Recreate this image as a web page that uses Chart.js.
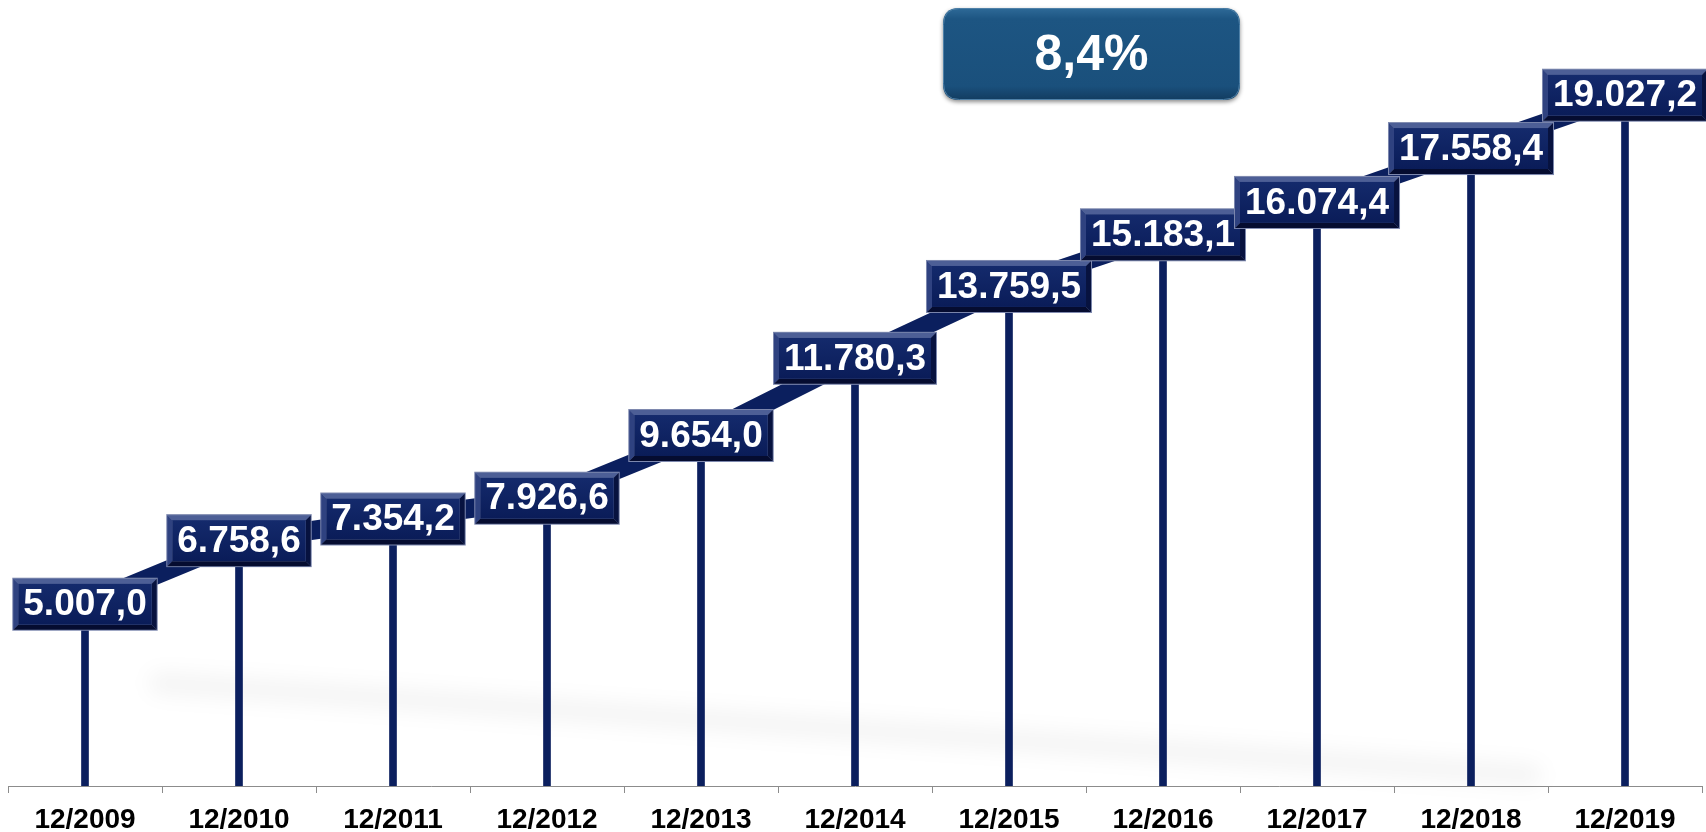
<!DOCTYPE html>
<html>
<head>
<meta charset="utf-8">
<script src="https://cdn.jsdelivr.net/npm/chart.js@4.4.1/dist/chart.umd.min.js"></script>
<style>
html,body{margin:0;padding:0;background:#fff;}
#wrap{width:1706px;height:832px;position:relative;}
</style>
</head>
<body>
<div id="wrap"><canvas id="c" width="1706" height="832"></canvas></div>
<script>
const categories = ['12/2009','12/2010','12/2011','12/2012','12/2013','12/2014','12/2015','12/2016','12/2017','12/2018','12/2019'];
const values = [5007.0, 6758.6, 7354.2, 7926.6, 9654.0, 11780.3, 13759.5, 15183.1, 16074.4, 17558.4, 19027.2];
const growthLabel = '8,4%';
const yMax = 21650;

const NAVY = '#0B1F5E';

function fmt(v){
  const fixed = v.toFixed(1);
  let [i, d] = fixed.split('.');
  i = i.replace(/\B(?=(\d{3})+(?!\d))/g, '.');
  return i + ',' + d;
}

function roundRect(ctx, x, y, w, h, r){
  ctx.beginPath();
  ctx.moveTo(x + r, y);
  ctx.lineTo(x + w - r, y);
  ctx.quadraticCurveTo(x + w, y, x + w, y + r);
  ctx.lineTo(x + w, y + h - r);
  ctx.quadraticCurveTo(x + w, y + h, x + w - r, y + h);
  ctx.lineTo(x + r, y + h);
  ctx.quadraticCurveTo(x, y + h, x, y + h - r);
  ctx.lineTo(x, y + r);
  ctx.quadraticCurveTo(x, y, x + r, y);
  ctx.closePath();
}

const shadowPlugin = {
  id: 'shadowPlugin',
  beforeDatasetsDraw(chart){
    const ctx = chart.ctx;
    const xs = chart.scales.x;
    ctx.save();
    ctx.filter = 'blur(10px)';
    ctx.strokeStyle = 'rgba(0,0,0,0.045)';
    ctx.lineWidth = 22;
    ctx.lineCap = 'round';
    ctx.beginPath();
    ctx.moveTo(xs.getPixelForValue(0) + 75, 683);
    ctx.lineTo(xs.getPixelForValue(9) + 60, 775);
    ctx.stroke();
    ctx.restore();
  }
};

const boxPlugin = {
  id: 'boxPlugin',
  afterDatasetsDraw(chart){
    const ctx = chart.ctx;
    const meta = chart.getDatasetMeta(1);
    ctx.save();
    ctx.font = 'bold 37px "Liberation Sans", Arial, sans-serif';
    ctx.textAlign = 'center';
    ctx.textBaseline = 'middle';
    meta.data.forEach((pt, i) => {
      const txt = fmt(values[i]);
      const tw = ctx.measureText(txt).width;
      const w = tw + 20, h = 51;
      const x = pt.x - w / 2, y = pt.y - h / 2;
      const b = 5;
      ctx.fillStyle = '#7D88AE';
      ctx.fillRect(x - 1, y - 1, w + 2, h + 2);
      ctx.fillStyle = '#4D5F96';
      ctx.beginPath(); ctx.moveTo(x, y); ctx.lineTo(x + w, y); ctx.lineTo(x + w - b, y + b); ctx.lineTo(x + b, y + b); ctx.closePath(); ctx.fill();
      ctx.fillStyle = '#2F4280';
      ctx.beginPath(); ctx.moveTo(x, y); ctx.lineTo(x + b, y + b); ctx.lineTo(x + b, y + h - b); ctx.lineTo(x, y + h); ctx.closePath(); ctx.fill();
      ctx.fillStyle = '#07123F';
      ctx.beginPath(); ctx.moveTo(x + w, y); ctx.lineTo(x + w, y + h); ctx.lineTo(x + w - b, y + h - b); ctx.lineTo(x + w - b, y + b); ctx.closePath(); ctx.fill();
      ctx.fillStyle = '#050C30';
      ctx.beginPath(); ctx.moveTo(x, y + h); ctx.lineTo(x + w, y + h); ctx.lineTo(x + w - b, y + h - b); ctx.lineTo(x + b, y + h - b); ctx.closePath(); ctx.fill();
      const g = ctx.createLinearGradient(0, y + b, 0, y + h - b);
      g.addColorStop(0, '#142A6C');
      g.addColorStop(1, '#0A1C58');
      ctx.fillStyle = g;
      ctx.fillRect(x + b, y + b, w - 2 * b, h - 2 * b);
      ctx.fillStyle = '#ffffff';
      ctx.fillText(txt, pt.x, pt.y + 1);
    });

    const gx = 943, gy = 8, gw = 297, gh = 92;
    ctx.save();
    ctx.shadowColor = 'rgba(0,0,0,0.45)';
    ctx.shadowBlur = 4;
    ctx.shadowOffsetY = 2;
    roundRect(ctx, gx, gy, gw, gh, 16);
    const gg = ctx.createLinearGradient(0, gy, 0, gy + gh);
    gg.addColorStop(0, '#2E6A98');
    gg.addColorStop(0.12, '#1D5582');
    gg.addColorStop(0.85, '#1A507C');
    gg.addColorStop(1, '#123C60');
    ctx.fillStyle = gg;
    ctx.fill();
    ctx.restore();
    roundRect(ctx, gx + 0.5, gy + 0.5, gw - 1, gh - 1, 16);
    ctx.strokeStyle = '#4F81A8';
    ctx.lineWidth = 1;
    ctx.stroke();
    ctx.fillStyle = '#ffffff';
    ctx.font = 'bold 50px "Liberation Sans", Arial, sans-serif';
    ctx.fillText(growthLabel, gx + gw / 2, gy + gh / 2 + 2);
    ctx.restore();
  }
};

new Chart(document.getElementById('c'), {
  type: 'bar',
  data: {
    labels: categories,
    datasets: [
      {
        type: 'bar',
        data: values,
        backgroundColor: NAVY,
        barThickness: 7,
        order: 2
      },
      {
        type: 'line',
        data: values,
        borderColor: NAVY,
        borderWidth: 19,
        pointRadius: 0,
        tension: 0,
        order: 3
      }
    ]
  },
  options: {
    responsive: false,
    animation: false,
    events: [],
    layout: { padding: { left: 8, right: 4, top: 0, bottom: 0 } },
    plugins: { legend: { display: false }, tooltip: { enabled: false } },
    scales: {
      x: {
        offset: true,
        afterFit(scale){ scale.height = 46; },
        grid: { display: true, offset: true, drawOnChartArea: false, drawTicks: true, tickLength: 7, color: '#8C8C8C', lineWidth: 1 },
        border: { display: true, color: '#8C8C8C', width: 1 },
        ticks: { color: '#000', font: { family: '"Liberation Sans", Arial, sans-serif', size: 28, weight: 'bold' }, padding: 10, maxRotation: 0, autoSkip: false }
      },
      y: {
        display: false,
        min: 0,
        max: yMax
      }
    }
  },
  plugins: [shadowPlugin, boxPlugin]
});
</script>
</body>
</html>
